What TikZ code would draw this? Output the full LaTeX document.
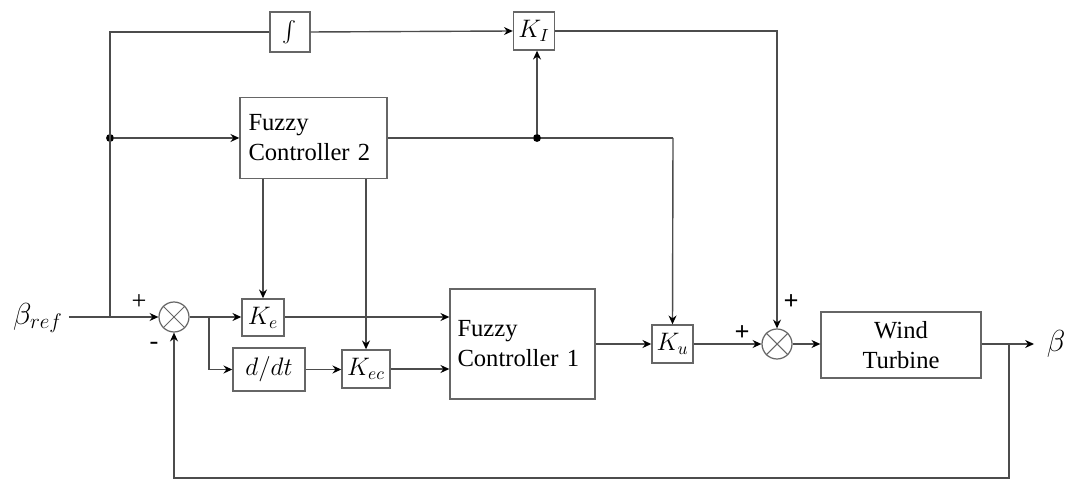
\documentclass[tikz,border=0pt]{standalone}
\usepackage{amsmath}
\usepackage{fontspec}
\setmainfont{Liberation Serif}
\newfontfamily\blkfont{Liberation Serif}
\usepackage{tikz}
\usetikzlibrary{positioning, arrows.meta}

\tikzset{
  blk/.style={draw=black!60, line width=0.8pt, inner sep=0pt, font=\blkfont\fontsize{14}{17}\selectfont},
  sumjn/.style={draw=black!60, line width=0.7pt, circle, minimum size=0.6cm, inner sep=0pt},
  dot/.style={circle, fill=black, inner sep=0pt, minimum size=4.5pt},
  wire/.style={black!70, line width=0.8pt},
  sgn/.style={font=\blkfont\fontsize{15}{15}\selectfont},
}

\begin{document}
\begin{tikzpicture}[x=0.02cm, y=-0.02cm, >={Stealth[length=5pt,width=4.5pt,color=black]}]
  \useasboundingbox (0,0) rectangle (1067,482);

  % gains and blocks
  \node[blk, minimum width=0.8cm, minimum height=0.8cm] (int) at (290,32) {\fontsize{13}{13}\selectfont$\int$};
  \node[blk, minimum width=0.82cm, minimum height=0.76cm] (KI) at (534,31) {$K_I$};
  \node[blk, align=left, text width=2.6cm, inner xsep=0.17cm, minimum height=1.62cm] (fc2) at (313.5,138) {Fuzzy\\Controller 2};
  \node[blk, minimum width=0.84cm, minimum height=0.74cm] (Ke) at (263,317.5) {$K_e$};
  \node[blk, minimum width=1.44cm, minimum height=0.86cm] (ddt) at (269,369.5) {$d/dt$};
  \node[blk, minimum width=0.96cm, minimum height=0.76cm] (Kec) at (366,369) {$K_{ec}$};
  \node[blk, align=left, text width=2.6cm, inner xsep=0.15cm, minimum height=2.2cm] (fc1) at (522.5,344) {Fuzzy\\Controller 1};
  \node[blk, minimum width=0.82cm, minimum height=0.76cm] (Ku) at (672.5,344) {$K_u$};
  \node[blk, align=center, minimum width=3.2cm, minimum height=1.32cm] (wt) at (901,345) {Wind\\Turbine};

  % summing junctions
  \node[sumjn] (sum1) at (174,317) {};
  \node[sumjn] (sum2) at (777,344) {};
  \draw[black!60, line width=0.6pt] (sum1.45) -- (sum1.225) (sum1.135) -- (sum1.315);
  \draw[black!60, line width=0.6pt] (sum2.45) -- (sum2.225) (sum2.135) -- (sum2.315);

  % branch points
  \node[dot] (d1) at (110,138) {};
  \node[dot] (d2) at (537,138) {};
  \coordinate (tap) at (110,317);
  \coordinate (c2) at (673,138);
  \coordinate (br) at (209,317);
  \coordinate (br2) at (1009,344);
  \coordinate (fb) at (1009,478);
  \coordinate (out) at (1034,344);

  % signals
  \node (bref) at (38,318) {\fontsize{18}{18}\selectfont$\beta_{ref}$};
  \node (beta) at (1056,344) {\fontsize{18}{18}\selectfont$\beta$};

  % signs
  \node[sgn] (p1) at (139,302) {+};
  \node[sgn] (m1) at (154,346) {-};
  \node[sgn] (p2) at (742,333) {\textbf{+}};
  \node[sgn] (p3) at (791,302) {\textbf{+}};

  % connections
  \draw[wire, ->] (bref.east |- sum1) -- (sum1.west);
  \draw[wire] (tap) |- (int.west);
  \draw[wire, ->] (int.east) -- (KI.west);
  \draw[wire, ->] (d1) -- (fc2.west |- d1);
  \draw[wire] (fc2.east |- d2) -- (d2) -- (c2);
  \draw[wire, ->] (d2) -- (d2 |- KI.south);
  \draw[wire, ->] (c2) -- (Ku.north);
  \draw[wire, ->] (KI.east) -| (sum2.north);
  \draw[wire, ->] (fc2.south -| Ke) -- (Ke.north);
  \draw[wire, ->] (fc2.south -| Kec) -- (Kec.north);
  \draw[wire, ->] (sum1.east) -- (Ke.west |- sum1);
  \draw[wire, ->] (br) |- (ddt.west);
  \draw[wire, ->] (ddt.east) -- (Kec.west |- ddt);
  \draw[wire, ->] (Ke.east |- sum1) -- (fc1.west |- sum1);
  \draw[wire, ->] (Kec.east) -- (fc1.west |- Kec);
  \draw[wire, ->] (fc1.east) -- (Ku.west);
  \draw[wire, ->] (Ku.east) -- (sum2.west);
  \draw[wire, ->] (sum2.east) -- (wt.west |- sum2);
  \draw[wire, ->] (wt.east |- br2) -- (out);
  \draw[wire, ->] (br2) -- (fb) -| (sum1.south);
\end{tikzpicture}
\end{document}
